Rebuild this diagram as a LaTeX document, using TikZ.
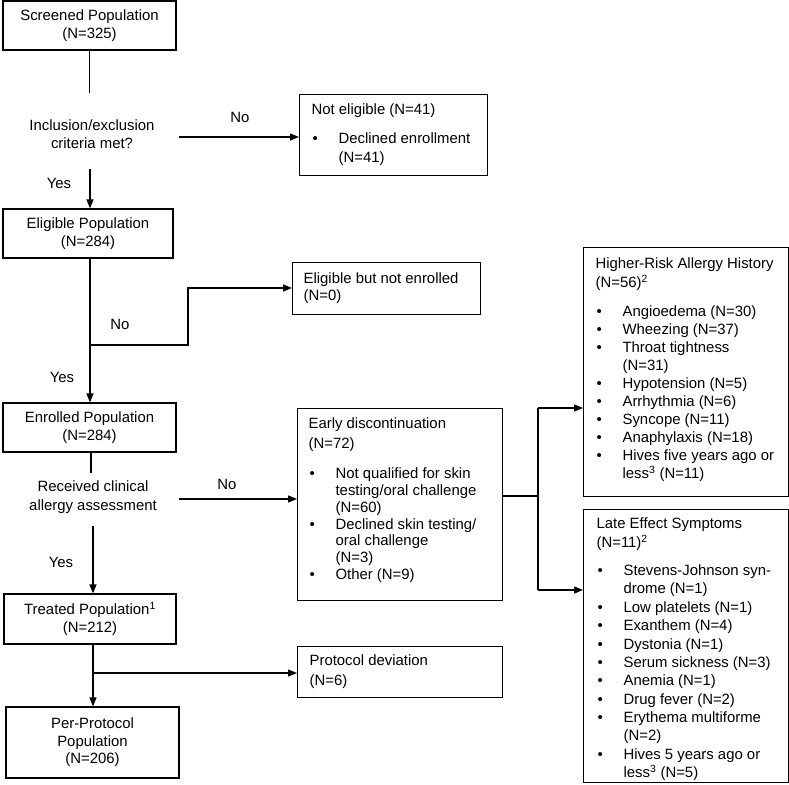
\documentclass[tikz,border=0pt]{standalone}
\usepackage{fontspec}
\setmainfont{Liberation Sans}
\usetikzlibrary{arrows.meta}
\newcommand\bl[1]{\makebox[27pt][l]{\hspace{1pt}•}#1}
\newcommand\ind[1]{\hspace*{27pt}#1}
\newcommand\boxbody[5]{\parbox[t][#1][t]{#2}{\fontsize{14.9}{#4}\selectfont\raggedright\vspace*{\dimexpr#3-11pt\relax}\rule{0pt}{11pt}#5}}
\begin{document}
\begin{tikzpicture}[x=1pt,y=-1pt,
  every node/.style={font=\fontsize{14.9}{18}\selectfont, text=black},
  cbox/.style={draw, line width=1.2pt, align=center, inner sep=0pt},
  lbox/.style={draw, line width=1.2pt, anchor=north west, inner ysep=0pt},
  lab/.style={align=center, inner sep=0pt},
  conn/.style={line width=1.3pt},
  arr/.style={conn, -{Triangle[length=9pt,width=7pt]}}]
\useasboundingbox (0,0) rectangle (789,784);

% main column boxes
\node[cbox, minimum width=173pt, minimum height=49pt] (scr) at (89.5,25.5) {Screened Population\\(N=325)};
\node[cbox, minimum width=170pt, minimum height=49pt] (el) at (88,233.5) {Eligible Population\\(N=284)};
\node[cbox, minimum width=173pt, minimum height=49pt] (en) at (89.5,427.5) {Enrolled Population\\(N=284)};
\node[cbox, minimum width=172pt, minimum height=50pt] (tr) at (90,619) {Treated Population\textsuperscript{1}\\(N=212)};
\node[cbox, minimum width=173pt, minimum height=71pt, font=\fontsize{14.9}{17.5}\selectfont] (pp) at (92.5,742.5) {Per-Protocol\\Population\\(N=206)};

% decision labels
\node[lab] (crit) at (92,134) {Inclusion/exclusion\\criteria met?};
\node[lab, font=\fontsize{14.9}{19}\selectfont] (recv) at (93,497.5) {Received clinical\\allergy assessment};

% side boxes
\node[lbox, inner xsep=12pt] (ne) at (299,94) {\boxbody{81pt}{164pt}{20pt}{18.5pt}{Not eligible (N=41)\\[10.5pt]\bl{Declined enrollment}\\\ind{(N=41)}}};
\node[lbox, inner xsep=11pt] (ebn) at (292,262) {\boxbody{52pt}{166pt}{21pt}{17pt}{Eligible but not enrolled\\(N=0)}};
\node[lbox, inner xsep=11pt] (ed) at (297,408) {\boxbody{192pt}{183pt}{20pt}{16.8pt}{Early discontinuation\\[3.2pt](N=72)\\[13.2pt]\bl{Not qualified for skin}\\\ind{testing/oral challenge}\\\ind{(N=60)}\\\bl{Declined skin testing/}\\\ind{oral challenge}\\\ind{(N=3)}\\\bl{Other (N=9)}}};
\node[lbox, inner xsep=12pt] (pd) at (297,646) {\boxbody{51pt}{181pt}{19pt}{20pt}{Protocol deviation\\(N=6)}};
\node[lbox, inner xsep=12pt] (hr) at (583,247) {\boxbody{249pt}{181pt}{21pt}{18pt}{Higher-Risk Allergy History\\[1pt](N=56)\textsuperscript{2}\\[11pt]\bl{Angioedema (N=30)}\\\bl{Wheezing (N=37)}\\\bl{Throat tightness}\\\ind{(N=31)}\\\bl{Hypotension (N=5)}\\\bl{Arrhythmia (N=6)}\\\bl{Syncope (N=11)}\\\bl{Anaphylaxis (N=18)}\\\bl{Hives five years ago or}\\\ind{less\textsuperscript{3} (N=11)}}};
\node[lbox, inner xsep=13pt] (le) at (583,509) {\boxbody{273pt}{179pt}{19pt}{18.36pt}{Late Effect Symptoms\\[0.64pt](N=11)\textsuperscript{2}\\[9.64pt]\bl{Stevens-Johnson syn-}\\\ind{drome (N=1)}\\\bl{Low platelets (N=1)}\\\bl{Exanthem (N=4)}\\\bl{Dystonia (N=1)}\\\bl{Serum sickness (N=3)}\\\bl{Anemia (N=1)}\\\bl{Drug fever (N=2)}\\\bl{Erythema multiforme}\\\ind{(N=2)}\\\bl{Hives 5 years ago or}\\\ind{less\textsuperscript{3} (N=5)}}};

% yes/no labels
\node (no1) at (240,117) {No};
\node (yes1) at (59,183) {Yes};
\node (no2) at (120,324) {No};
\node (yes2) at (62,377) {Yes};
\node (no3) at (227,484) {No};
\node (yes3) at (61,562) {Yes};

% coordinates
\coordinate (critT) at (89.5,93);
\coordinate (critB) at (90,169);
\coordinate (critR) at (179,137);
\coordinate (br1) at (90,345);
\coordinate (k1) at (188,345);
\coordinate (k2) at (188,288);
\coordinate (rT) at (91,473);
\coordinate (rB) at (93,526);
\coordinate (rR) at (179,499);
\coordinate (br2) at (93,673);
\coordinate (jn) at (538,496);
\coordinate (jt) at (538,408);
\coordinate (jb) at (538,590);

% connectors
\draw[conn] (scr.south) -- (critT);
\draw[arr] (critR) -- (critR -| ne.west);
\draw[arr] (critB) -- (critB |- el.north);
\draw[arr] (el.south -| br1) -- (en.north -| br1);
\draw[arr] (br1) -- (k1) -- (k2) -- (k2 -| ebn.west);
\draw[conn] (en.south -| rT) -- (rT);
\draw[arr] (rR) -- (rR -| ed.west);
\draw[arr] (rB) -- (rB |- tr.north);
\draw[arr] (tr.south -| br2) -- (pp.north -| br2);
\draw[arr] (br2) -- (br2 -| pd.west);
\draw[conn] (ed.east |- jn) -- (jn);
\draw[conn] (jt) -- (jb);
\draw[arr] (jt) -- (jt -| hr.west);
\draw[arr] (jb) -- (jb -| le.west);
\end{tikzpicture}
\end{document}
